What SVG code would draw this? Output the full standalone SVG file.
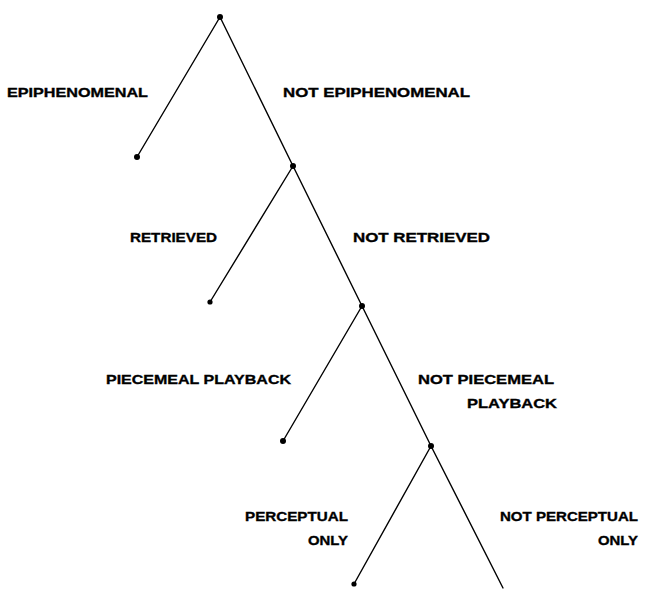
<svg xmlns="http://www.w3.org/2000/svg" width="647" height="590" viewBox="0 0 647 590">
<style>
.e{stroke:#000;stroke-width:1.4;fill:none;stroke-linecap:round}
.d{fill:#000}
text{font-family:"Liberation Sans",Arial,sans-serif;font-weight:bold;font-size:13.5px;fill:#000;stroke:#000;stroke-width:0.35}
</style>
<rect width="647" height="590" fill="#fff"/>
<g id="connectors">
<line class="e" x1="220" y1="17" x2="137" y2="157"/>
<line class="e" x1="220" y1="17" x2="293" y2="166"/>
<line class="e" x1="293" y1="166" x2="210" y2="302"/>
<line class="e" x1="293" y1="166" x2="362" y2="306"/>
<line class="e" x1="362" y1="306" x2="283" y2="441"/>
<line class="e" x1="362" y1="306" x2="431" y2="446"/>
<line class="e" x1="431" y1="446" x2="354" y2="584"/>
<line class="e" x1="431" y1="446" x2="503" y2="588"/>
</g>
<g id="n0"><circle class="d" cx="220" cy="17" r="3"/></g>
<g id="n1"><circle class="d" cx="137" cy="157" r="3"/></g>
<g id="n2"><circle class="d" cx="293" cy="166" r="3"/></g>
<g id="n3"><circle class="d" cx="210" cy="302" r="2.6"/></g>
<g id="n4"><circle class="d" cx="362" cy="306" r="3"/></g>
<g id="n5"><circle class="d" cx="283" cy="441" r="3"/></g>
<g id="n6"><circle class="d" cx="431" cy="446" r="3"/></g>
<g id="n7"><circle class="d" cx="354" cy="584" r="2.6"/></g>
<g id="labels">
<text x="7" y="97" textLength="141" lengthAdjust="spacingAndGlyphs">EPIPHENOMENAL</text>
<text x="283" y="97" textLength="187" lengthAdjust="spacingAndGlyphs">NOT EPIPHENOMENAL</text>
<text x="130" y="242" textLength="87" lengthAdjust="spacingAndGlyphs">RETRIEVED</text>
<text x="353" y="242" textLength="137" lengthAdjust="spacingAndGlyphs">NOT RETRIEVED</text>
<text x="106" y="384" textLength="185" lengthAdjust="spacingAndGlyphs">PIECEMEAL PLAYBACK</text>
<text x="418" y="384" textLength="136" lengthAdjust="spacingAndGlyphs">NOT PIECEMEAL</text>
<text x="467" y="408" textLength="90" lengthAdjust="spacingAndGlyphs">PLAYBACK</text>
<text x="245" y="521" textLength="103" lengthAdjust="spacingAndGlyphs">PERCEPTUAL</text>
<text x="308" y="545" textLength="40" lengthAdjust="spacingAndGlyphs">ONLY</text>
<text x="500" y="521" textLength="138" lengthAdjust="spacingAndGlyphs">NOT PERCEPTUAL</text>
<text x="598" y="545" textLength="40" lengthAdjust="spacingAndGlyphs">ONLY</text>
</g>
</svg>
